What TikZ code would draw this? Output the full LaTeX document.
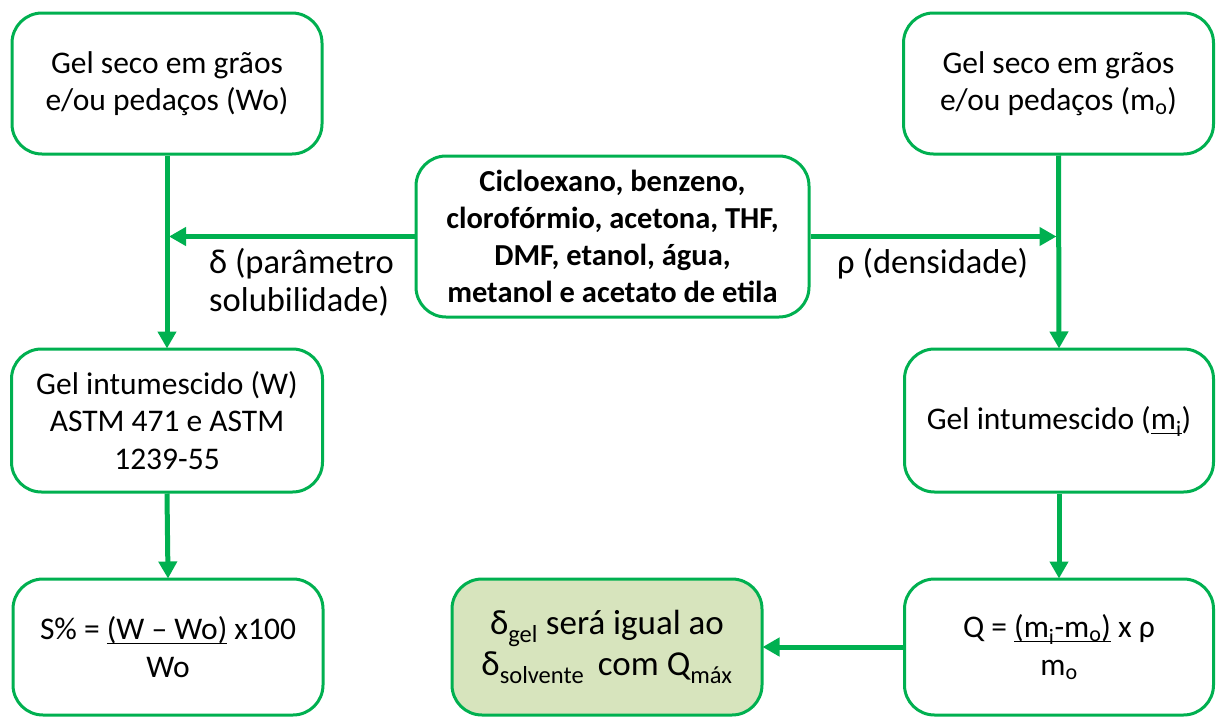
\documentclass[tikz,border=0pt]{standalone}
\usepackage{fontspec}
\setmainfont{Carlito}
\usetikzlibrary{arrows.meta}
\definecolor{flowgreen}{HTML}{00B050}
\definecolor{resultfill}{HTML}{D7E4BD}
% underline drawn just below the baseline, regardless of subscripts
\newcommand{\flatul}[1]{\underline{\raisebox{0pt}[\height][0.07em]{#1}}}
\tikzset{
  box/.style={draw=flowgreen, line width=3pt, rounded corners=30pt, fill=white,
    align=center, inner sep=0pt, font=\fontsize{31.5}{37.5}\selectfont},
  link/.style={draw=flowgreen, line width=5pt,
    -{Triangle[length=17pt,width=18pt]}, shorten >=-1pt},
  lbl/.style={inner sep=0pt, align=left, font=\fontsize{34.5}{38}\selectfont},
}
\begin{document}
\begin{tikzpicture}[x=1pt,y=-1pt]
\useasboundingbox (0,0) rectangle (1216,718);

% boxes
\node[box, minimum width=310pt, minimum height=141pt] (tl) at (167,83.5)
  {Gel seco em grãos\\e/ou pedaços (Wo)};
\node[box, minimum width=310pt, minimum height=141pt] (tr) at (1058.5,83.5)
  {Gel seco em grãos\\e/ou pedaços (m\textsubscript{o})};
\node[box, minimum width=393pt, minimum height=161pt, font=\fontsize{30.5}{37}\selectfont\bfseries] (ctr) at (612.5,236.5)
  {Cicloexano, benzeno,\\clorofórmio, acetona, THF,\\DMF, etanol, água,\\metanol e acetato de etila};
\node[box, minimum width=311pt, minimum height=143pt] (ml) at (167,420.5)
  {Gel intumescido (W)\\ASTM 471 e ASTM\\1239-55};
\node[box, minimum width=309pt, minimum height=143pt] (mr) at (1059,420.5)
  {Gel intumescido (\flatul{m\textsubscript{i}})};
\node[box, minimum width=310pt, minimum height=136pt] (bl) at (168,647)
  {S\% = \flatul{(W -- Wo)} x100\\Wo};
\node[box, minimum width=310pt, minimum height=136pt, fill=resultfill,
  font=\fontsize{35}{41}\selectfont] (bm) at (607,647)
  {δ\textsubscript{gel} será igual ao\\δ\textsubscript{solvente}\, com Q\textsubscript{máx}};
\node[box, minimum width=309pt, minimum height=136pt] (br) at (1059,647)
  {Q = \flatul{(m\textsubscript{i}-m\textsubscript{o})} x ρ\\m\textsubscript{o}};

% connectors
\coordinate (lj) at (tl.south |- ctr.west);
\coordinate (rj) at (tr.south |- ctr.east);
\draw[link] (tl.south) -- (ml.north);
\draw[link] (tr.south) -- (mr.north);
\draw[link] (ctr.west) -- ([xshift=3pt]lj);
\draw[link] (ctr.east) -- ([xshift=-3pt]rj);
\draw[link] (ml.south) -- (bl.north);
\draw[link] (mr.south) -- (br.north);
\draw[link] (br.west) -- (bm.east);

% connector labels
\node[lbl, anchor=north west] (lsol) at (209,248) {δ (parâmetro\\solubilidade)};
\node[lbl, anchor=base west] (lrho) at (837,273) {ρ (densidade)};
\end{tikzpicture}
\end{document}
